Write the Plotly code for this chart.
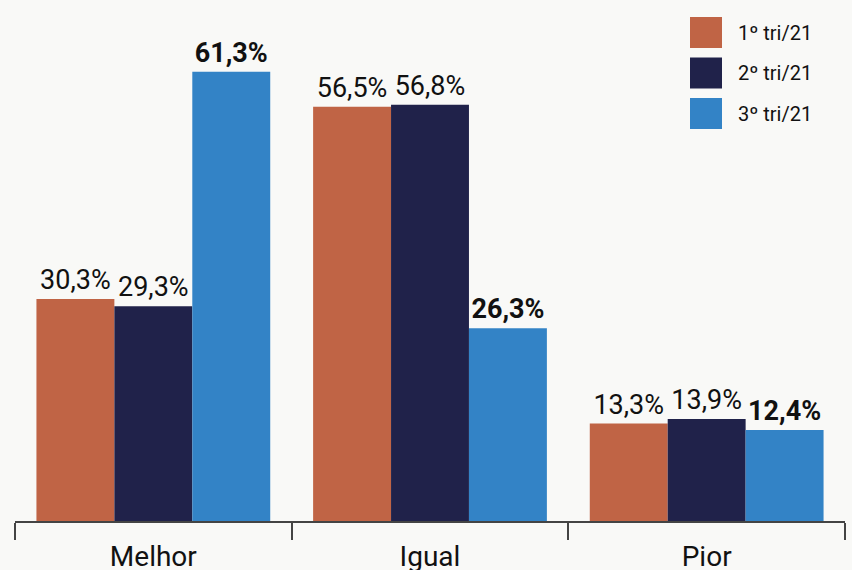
import plotly.graph_objects as go

categories = ["Melhor", "Igual", "Pior"]
series_names = ["1º tri/21", "2º tri/21", "3º tri/21"]
q1_values = [30.3, 56.5, 13.3]
q2_values = [29.3, 56.8, 13.9]
q3_values = [61.3, 26.3, 12.4]
series_values = [q1_values, q2_values, q3_values]
series_colors = ["#C06445", "#20224A", "#3383C6"]
bold_labels = [False, False, True]

def fmt(v, bold):
    s = f"{v:.1f}".replace(".", ",") + "%"
    return f"<b>{s}</b>" if bold else s

fig = go.Figure()
for name, vals, col, b in zip(series_names, series_values, series_colors, bold_labels):
    fig.add_trace(go.Bar(
        x=categories, y=vals, name=name,
        marker=dict(color=col, line=dict(width=0)),
        text=[fmt(v, b) for v in vals],
        textposition="outside",
        textfont=dict(family="Roboto", size=27, color="#111111"),
        constraintext="none",
        cliponaxis=False,
        showlegend=False,
    ))

# custom legend (large swatches)
for i, (name, col) in enumerate(zip(series_names, series_colors)):
    y0 = 17 + i * 40.5
    fig.add_shape(type="rect", xref="paper", yref="paper",
                  x0=(690 - 15) / 830, x1=(722 - 15) / 830,
                  y0=(521 - (y0 + 31)) / 501, y1=(521 - y0) / 501,
                  fillcolor=col, line=dict(width=0))
    fig.add_annotation(xref="paper", yref="paper",
                       x=(736 - 15) / 830, y=(521 - (y0 + 15.5)) / 501,
                       text=name, showarrow=False, xanchor="left", yanchor="middle",
                       font=dict(family="Roboto", size=20, color="#111111"))

fig.update_layout(
    width=852, height=570,
    margin=dict(l=15, r=7, t=20, b=49, autoexpand=False),
    paper_bgcolor="#F9F9F7", plot_bgcolor="#F9F9F7",
    barmode="group", bargap=0.155, bargroupgap=0,
    showlegend=False,
    font=dict(family="Roboto", color="#111111"),
)
fig.update_xaxes(
    showline=True, linecolor="#444444", linewidth=2,
    ticks="outside", tickson="boundaries", ticklen=17, tickwidth=2, tickcolor="#444444",
    tickfont=dict(family="Roboto", size=28, color="#111111"),
    ticklabelstandoff=9, automargin=False,
    showgrid=False,
)
fig.update_yaxes(visible=False, range=[0, 68.35], showgrid=False, zeroline=False, automargin=False)

fig.write_html("out.html", config={"displayModeBar": False},
               post_script="document.body.style.margin='0px';document.body.style.background='#F9F9F7';")
